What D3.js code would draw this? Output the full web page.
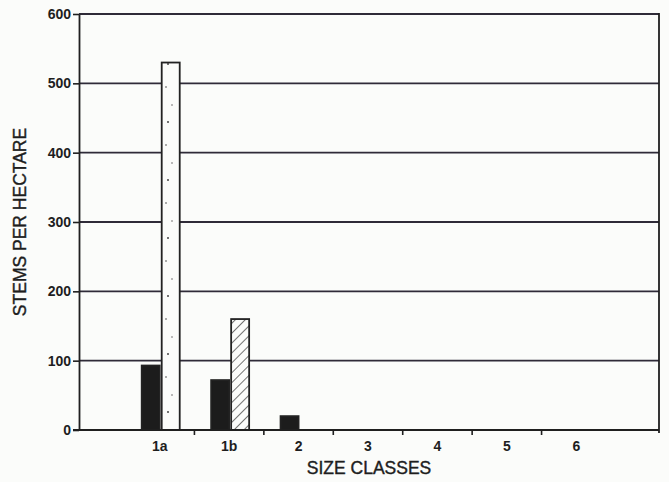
<!DOCTYPE html>
<html>
<head>
<meta charset="utf-8">
<script src="https://cdn.jsdelivr.net/npm/d3@7/dist/d3.min.js"></script>
<style>
  html, body { margin: 0; padding: 0; background: #fbfcfa; }
  svg { display: block; }
  text { font-family: "Liberation Sans", Arial, Helvetica, sans-serif; fill: #1e1e1e; }
</style>
</head>
<body>
<svg id="chart" width="669" height="482"></svg>
<script>
// Size classes along the x axis
const categories = ["1a", "1b", "2", "3", "4", "5", "6"];
// Stems per hectare for each series, one value per size class
const solidValues   = [93, 72, 20, 0, 0, 0, 0];
const stippleValues = [530, 0, 0, 0, 0, 0, 0];
const hatchValues   = [0, 160, 0, 0, 0, 0, 0];
// Y axis ticks
const yTicks = [0, 100, 200, 300, 400, 500, 600];
const yTitle = "STEMS PER HECTARE";
const xTitle = "SIZE CLASSES";

const svg = d3.select("#chart");
const plot = { left: 79, right: 659, top: 14, bottom: 430 };
const ink = "#1f1f1f";
const gridInk = "#2f2b38";

const y = d3.scaleLinear().domain([0, 600]).range([plot.bottom, plot.top]);
const x = d3.scaleBand().domain(categories).range([125, 611]).padding(0);
const bw = x.bandwidth();
// two slots per class: solid bar on the left, patterned bar on the right
const slot = d3.scaleBand().domain([0, 1])
  .range([bw / 2 - 18, bw / 2 + 20]).paddingInner(0.1).paddingOuter(0);

// fill patterns
const defs = svg.append("defs");
const stip = defs.append("pattern").attr("id", "stipple")
  .attr("patternUnits", "userSpaceOnUse").attr("width", 18).attr("height", 58);
stip.append("rect").attr("width", 18).attr("height", 58).attr("fill", "#fbfcfa");
[[6, 6, 1.0], [4, 29, 0.8], [10, 47, 0.7]].forEach(([cx, cy, r]) =>
  stip.append("circle").attr("cx", cx).attr("cy", cy).attr("r", r).attr("fill", "#444"));

const hatch = defs.append("pattern").attr("id", "hatch")
  .attr("patternUnits", "userSpaceOnUse").attr("width", 7).attr("height", 7)
  .attr("patternTransform", "rotate(45)");
hatch.append("rect").attr("width", 7).attr("height", 7).attr("fill", "#fbfcfa");
hatch.append("line").attr("x1", 0).attr("y1", 0).attr("x2", 0).attr("y2", 7)
  .attr("stroke", "#2a2a2a").attr("stroke-width", 1.3);

// horizontal grid lines
svg.append("g").selectAll("line")
  .data(yTicks.filter(d => d > 0))
  .join("line")
  .attr("x1", plot.left).attr("x2", plot.right)
  .attr("y1", d => y(d)).attr("y2", d => y(d))
  .attr("stroke", gridInk).attr("stroke-width", 1.8);

// bars
const series = [
  { values: solidValues, slot: 0, fill: "#1c1c1c" },
  { values: stippleValues, slot: 1, fill: "url(#stipple)" },
  { values: hatchValues, slot: 1, fill: "url(#hatch)" }
];
const bars = svg.append("g");
series.forEach(s => {
  bars.selectAll(null)
    .data(categories.map((c, i) => ({ c, v: s.values[i] })).filter(d => d.v > 0))
    .join("rect")
    .attr("x", d => x(d.c) + slot(s.slot))
    .attr("width", slot.bandwidth())
    .attr("y", d => y(d.v))
    .attr("height", d => y(0) - y(d.v))
    .attr("fill", s.fill)
    .attr("stroke", "#222").attr("stroke-width", 1.8);
});

// right border
svg.append("line")
  .attr("x1", plot.right).attr("x2", plot.right)
  .attr("y1", plot.top - 1).attr("y2", plot.bottom + 3)
  .attr("stroke", ink).attr("stroke-width", 1.8);

// y axis
const yAxis = svg.append("g")
  .attr("transform", `translate(${plot.left},0)`)
  .call(d3.axisLeft(y).tickValues(yTicks).tickSize(6).tickPadding(2).tickSizeOuter(0));
yAxis.select(".domain").attr("stroke", ink).attr("stroke-width", 1.8);
yAxis.selectAll(".tick line").attr("stroke", ink).attr("stroke-width", 1.6);
yAxis.selectAll(".tick text")
  .attr("font-size", 14).attr("font-weight", "bold")
  .style("fill", "#1e1e1e").style("font-family", "Liberation Sans, Arial, sans-serif");

// x axis: ticks at boundaries between classes, labels centred under each class
svg.append("line")
  .attr("x1", plot.left - 6).attr("x2", plot.right)
  .attr("y1", plot.bottom).attr("y2", plot.bottom)
  .attr("stroke", ink).attr("stroke-width", 2);
svg.append("g").selectAll("line")
  .data(categories.slice(1))
  .join("line")
  .attr("x1", d => x(d)).attr("x2", d => x(d))
  .attr("y1", plot.bottom).attr("y2", plot.bottom + 5)
  .attr("stroke", ink).attr("stroke-width", 1.6);
svg.append("g").selectAll("text")
  .data(categories)
  .join("text")
  .attr("x", d => x(d) + bw / 2)
  .attr("y", 451)
  .attr("text-anchor", "middle")
  .attr("font-size", 14).attr("font-weight", "bold")
  .text(d => d);

// axis titles
svg.append("text")
  .attr("x", (plot.left + plot.right) / 2).attr("y", 474)
  .attr("text-anchor", "middle").attr("font-size", 17.5)
  .attr("stroke", "#1e1e1e").attr("stroke-width", 0.4)
  .text(xTitle);
svg.append("text")
  .attr("transform", `translate(26,${(plot.top + plot.bottom) / 2}) rotate(-90)`)
  .attr("text-anchor", "middle").attr("font-size", 17.5)
  .attr("stroke", "#1e1e1e").attr("stroke-width", 0.4)
  .text(yTitle);
</script>
</body>
</html>
